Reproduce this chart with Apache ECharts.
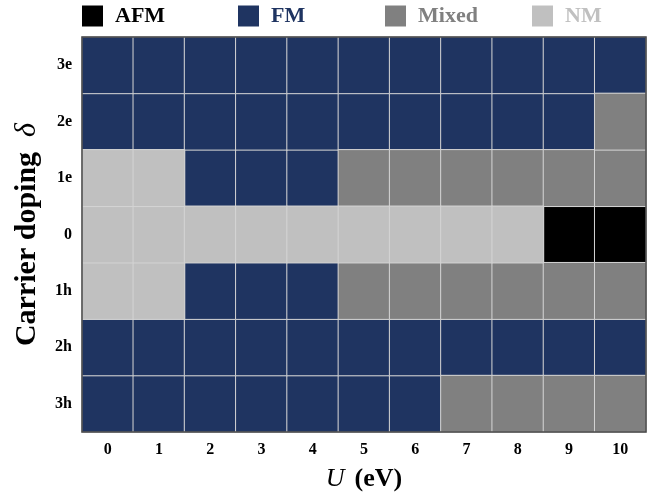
<!DOCTYPE html>
<html><head><meta charset="utf-8">
<script src="https://cdn.jsdelivr.net/npm/echarts@6/dist/echarts.min.js"></script>
<style>html,body{margin:0;padding:0;background:#fff}#c{width:657px;height:498px}</style>
</head><body><div id="c"></div>
<script>
const uValues = ['0','1','2','3','4','5','6','7','8','9','10'];
const dopingLabels = ['3h','2h','1h','0','1e','2e','3e']; // bottom to top
const phaseNames = ['AFM','FM','Mixed','NM'];
const phaseColors = ['#000000','#1f3461','#808080','#c0c0c0'];
// phase per row (index into phaseNames), columns U = 0..10
const row3h = [1,1,1,1,1,1,1,2,2,2,2];
const row2h = [1,1,1,1,1,1,1,1,1,1,1];
const row1h = [3,3,1,1,1,2,2,2,2,2,2];
const row0  = [3,3,3,3,3,3,3,3,3,0,0];
const row1e = [3,3,1,1,1,2,2,2,2,2,2];
const row2e = [1,1,1,1,1,1,1,1,1,1,2];
const row3e = [1,1,1,1,1,1,1,1,1,1,1];
const rows = [row3h,row2h,row1h,row0,row1e,row2e,row3e];

const serif = '"Liberation Serif","DejaVu Serif",serif';
const seriesData = phaseNames.map(()=>[]);
rows.forEach((r,yi)=>r.forEach((p,xi)=>seriesData[p].push([xi,yi,p])));

const legendLefts = [82,238,385,532];
const legends = phaseNames.map((n,i)=>({
  data:[{name:n,textStyle:{color:phaseColors[i]}}],
  left:legendLefts[i], top:5, padding:0, icon:'rect', itemWidth:21, itemHeight:21, itemGap:0,
  selectedMode:false, itemStyle:{borderWidth:0},
  textStyle:{fontFamily:serif,fontWeight:'bold',fontSize:22,padding:[0,0,0,7]}
}));

const chart = echarts.init(document.getElementById('c'));
chart.setOption({
  animation:false,
  legend:legends,
  grid:{left:82,right:11,top:37,bottom:66,show:true,borderColor:'#4a4a4a',borderWidth:1.5,backgroundColor:'transparent',z:10},
  xAxis:{type:'category',data:uValues,axisLine:{show:false},axisTick:{show:false},splitLine:{show:false},
    axisLabel:{fontFamily:serif,fontWeight:'bold',fontSize:16,color:'#000',margin:10},
    name:'{i|U}   {b|(eV)}',nameLocation:'middle',nameGap:34,
    nameTextStyle:{rich:{i:{fontFamily:serif,fontStyle:'italic',fontSize:26,color:'#000'},b:{fontFamily:serif,fontWeight:'bold',fontSize:26,color:'#000'}}}},
  yAxis:{type:'category',data:dopingLabels,axisLine:{show:false},axisTick:{show:false},splitLine:{show:false},
    axisLabel:{fontFamily:serif,fontWeight:'bold',fontSize:16,color:'#000',margin:10},
    name:'{b|Carrier doping }{i| δ}',nameLocation:'middle',nameGap:40,
    nameTextStyle:{rich:{i:{fontFamily:serif,fontStyle:'italic',fontSize:30,color:'#000'},b:{fontFamily:serif,fontWeight:'bold',fontSize:30,color:'#000'}}}},
  series:phaseNames.map((n,i)=>({
    name:n,type:'heatmap',data:seriesData[i],
    itemStyle:{color:phaseColors[i],borderColor:'#d4d4d4',borderWidth:1},
    emphasis:{disabled:true},label:{show:false}
  }))
});
</script></body></html>
